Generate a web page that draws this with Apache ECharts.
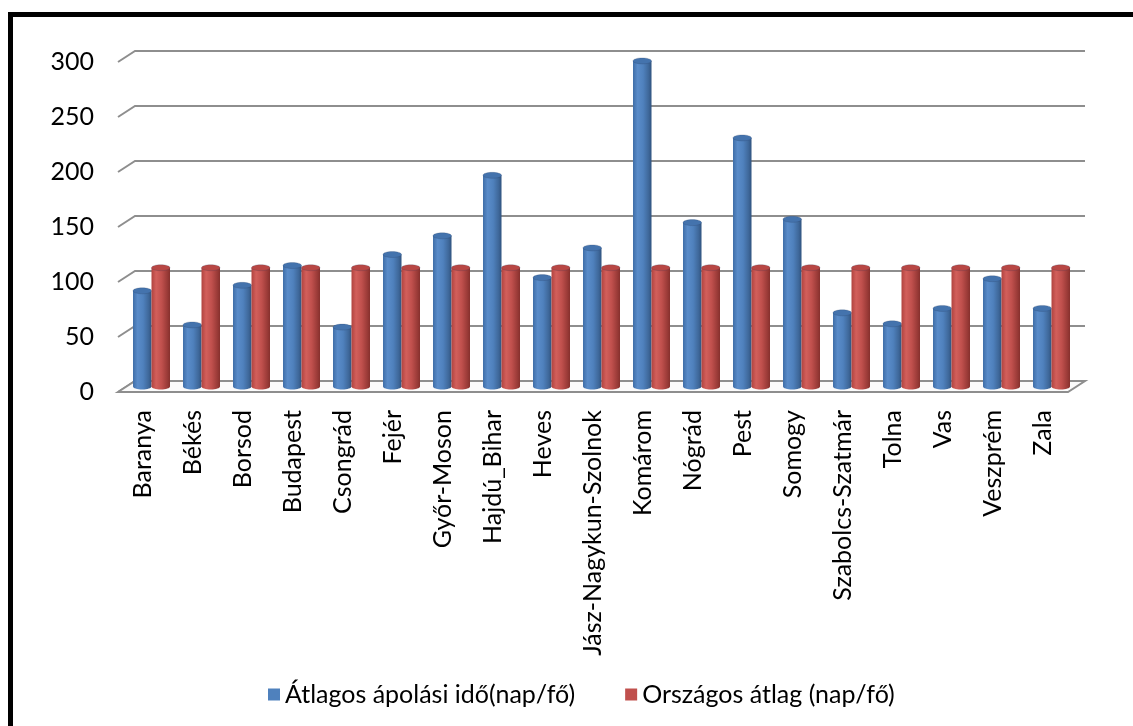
<!DOCTYPE html>
<html>
<head>
<meta charset="utf-8">
<title>Átlagos ápolási idő megyénként</title>
<script src="https://cdn.jsdelivr.net/npm/echarts/dist/echarts.min.js"></script>
<style>
  html, body { margin: 0; padding: 0; background: #fff; overflow: hidden; }
  #frame { position: absolute; left: 8px; top: 12px; width: 1200px; height: 800px;
           border: 5px solid #000; box-sizing: border-box; }
  #chart { position: absolute; left: 0; top: 0; width: 1133px; height: 726px; }
</style>
</head>
<body>
<div id="frame"></div>
<div id="chart"></div>
<script>
// Megyék
const counties = ['Baranya', 'Békés', 'Borsod', 'Budapest', 'Csongrád', 'Fejér', 'Győr-Moson',
  'Hajdú_Bihar', 'Heves', 'Jász-Nagykun-Szolnok', 'Komárom', 'Nógrád', 'Pest', 'Somogy',
  'Szabolcs-Szatmár', 'Tolna', 'Vas', 'Veszprém', 'Zala'];

// Átlagos ápolási idő (nap/fő)
const avgStay = [87, 56, 92, 110, 54, 120, 137, 192, 99, 126, 296, 149, 226, 152, 67, 57, 71, 98, 71];

// Országos átlag (nap/fő)
const nationalAvg = [108, 108, 108, 108, 108, 108, 108, 108, 108, 108, 108, 108, 108, 108, 108, 108, 108, 108, 108];

// Függőleges tengely osztásai
const yTicks = [0, 50, 100, 150, 200, 250, 300];

const seriesNames = ['Átlagos ápolási idő(nap/fő)', 'Országos átlag (nap/fő)'];

const FONT = 'Lato, "Open Sans", sans-serif';
const GRID_COLOR = '#8e8e8e';
// oblique depth of the 3D box (back wall is shifted right/up by this)
const DEPTH_X = 17, DEPTH_Y = 11;

const LG = echarts.graphic.LinearGradient;
const palettes = [
  {
    body: () => new LG(0, 0, 1, 0, [
      { offset: 0, color: '#3f6ea8' }, { offset: 0.25, color: '#5a8cc9' },
      { offset: 0.55, color: '#4f81bd' }, { offset: 0.85, color: '#3e6799' },
      { offset: 1, color: '#30537f' }]),
    top: '#4473ad', legend: '#4f81bd'
  },
  {
    body: () => new LG(0, 0, 1, 0, [
      { offset: 0, color: '#b0433f' }, { offset: 0.25, color: '#d25f5b' },
      { offset: 0.55, color: '#c0504d' }, { offset: 0.85, color: '#9b3b38' },
      { offset: 1, color: '#86302d' }]),
    top: '#b84744', legend: '#c0504d'
  }
];

// Back-wall gridlines, their oblique stubs at the axis and the floor
function renderWall(params, api) {
  const cs = params.coordSys;
  const y = api.coord([0, api.value(1)])[1];
  const x0 = cs.x, x1 = cs.x + cs.width;
  const children = [{
    type: 'polyline',
    shape: { points: [[x0, y], [x0 + DEPTH_X, y - DEPTH_Y], [x1 + DEPTH_X, y - DEPTH_Y]] },
    style: { stroke: GRID_COLOR, lineWidth: 2, fill: null }
  }];
  if (api.value(1) === 0) {
    children.push({
      type: 'polygon',
      shape: { points: [[x0, y], [x0 + DEPTH_X, y - DEPTH_Y], [x1 + DEPTH_X, y - DEPTH_Y], [x1, y]] },
      style: { stroke: GRID_COLOR, lineWidth: 2, fill: '#fbfbfb' }
    });
  }
  return { type: 'group', children };
}

// Cylinder column standing in the middle of the box depth
function cylinderRenderer(seriesIndex) {
  const pal = palettes[seriesIndex];
  const side = seriesIndex === 0 ? -1 : 1;
  return function (params, api) {
    const cat = api.value(0), val = api.value(1);
    const base = api.coord([cat, 0]);
    const top = api.coord([cat, val]);
    const band = api.size([1, 0])[0];
    const w = band * 0.37;
    const cx = base[0] + DEPTH_X / 2 + side * w / 2;
    const yb = base[1] - DEPTH_Y / 2;
    const yt = top[1] - DEPTH_Y / 2;
    const ry = 3;
    return {
      type: 'group',
      children: [
        { type: 'ellipse', shape: { cx, cy: yb, rx: w / 2, ry }, style: { fill: pal.body() } },
        { type: 'rect', shape: { x: cx - w / 2, y: yt, width: w, height: yb - yt }, style: { fill: pal.body() } },
        { type: 'ellipse', shape: { cx, cy: yt, rx: w / 2, ry }, style: { fill: pal.top, stroke: 'rgba(40,60,90,0.35)', lineWidth: 0.6 } }
      ]
    };
  };
}

const chart = echarts.init(document.getElementById('chart'), null, { renderer: 'canvas' });
chart.setOption({
  animation: false,
  textStyle: { fontFamily: FONT },
  grid: { left: 118, right: 65, top: 62, bottom: 334, containLabel: false },
  xAxis: {
    type: 'category',
    data: counties,
    axisLine: { show: false },
    axisTick: { show: false },
    axisLabel: { rotate: 90, margin: 18, fontSize: 25, color: '#000', fontFamily: FONT, interval: 0 }
  },
  yAxis: {
    type: 'value',
    min: 0, max: 300, interval: 50,
    axisLine: { show: false },
    axisTick: { show: false },
    splitLine: { show: false },
    axisLabel: { margin: 24, fontSize: 25, color: '#000', fontFamily: FONT, padding: [6, 0, 0, 0] }
  },
  legend: {
    data: seriesNames,
    left: 263, top: 677,
    icon: 'rect', itemWidth: 12, itemHeight: 12, itemGap: 50,
    textStyle: { fontSize: 25, color: '#000', fontFamily: FONT }
  },
  series: [
    {
      type: 'custom', name: 'wall', silent: true, z: 1,
      renderItem: renderWall,
      encode: { x: 0, y: 1 },
      data: yTicks.map(v => [0, v])
    },
    {
      type: 'custom', name: seriesNames[0], z: 3,
      itemStyle: { color: palettes[0].legend },
      renderItem: cylinderRenderer(0),
      encode: { x: 0, y: 1 },
      data: avgStay.map((v, i) => [i, v])
    },
    {
      type: 'custom', name: seriesNames[1], z: 3,
      itemStyle: { color: palettes[1].legend },
      renderItem: cylinderRenderer(1),
      encode: { x: 0, y: 1 },
      data: nationalAvg.map((v, i) => [i, v])
    }
  ]
});
</script>
</body>
</html>
